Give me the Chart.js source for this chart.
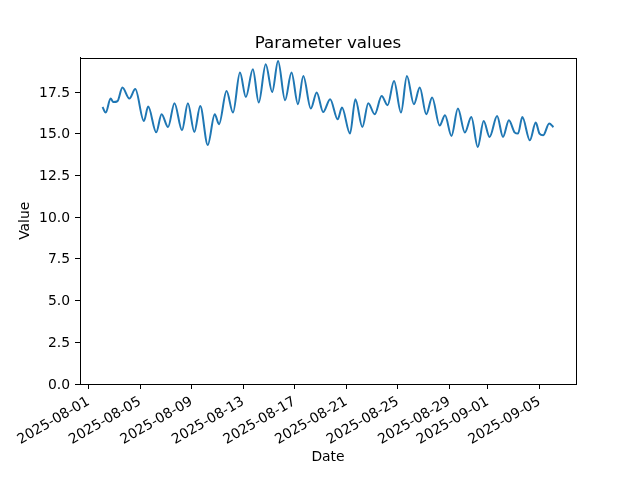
<!DOCTYPE html>
<html lang="en">
    <head>
        <meta charset="UTF-8" />
        <title>Parameter values</title>
        <style>
            body, html {
                margin: 0;
                padding: 0;
                background: #ffffff;
                overflow: hidden;
            }
            #chart-box {
                width: 640px;
                height: 480px;
            }
        </style>
    </head>
    <body>
        <div id="chart-box">
            <canvas id="line-chart" width="640" height="480"></canvas>
        </div>
    </body>
    <script src="https://cdn.jsdelivr.net/npm/chart.js@4.4.0/dist/chart.umd.min.js"></script>
    <script>
        // times (UTC), one per turning point of the curve
        const times = [
            "2025-08-02T02:00", "2025-08-02T08:00", "2025-08-02T17:00", "2025-08-02T22:00",
            "2025-08-03T06:00", "2025-08-03T15:00", "2025-08-04T04:00", "2025-08-04T15:00",
            "2025-08-05T07:00", "2025-08-05T15:00", "2025-08-06T06:00", "2025-08-06T16:00",
            "2025-08-07T04:00", "2025-08-07T16:00", "2025-08-08T06:00", "2025-08-08T17:00",
            "2025-08-09T05:00", "2025-08-09T16:00", "2025-08-10T06:00", "2025-08-10T19:00",
            "2025-08-11T03:00", "2025-08-11T17:00", "2025-08-12T05:00", "2025-08-12T18:00",
            "2025-08-13T05:00", "2025-08-13T18:00", "2025-08-14T05:00", "2025-08-14T18:00",
            "2025-08-15T06:00", "2025-08-15T17:00", "2025-08-16T06:00", "2025-08-16T18:00",
            "2025-08-17T06:00", "2025-08-17T16:00", "2025-08-18T06:00", "2025-08-18T17:00",
            "2025-08-19T05:00", "2025-08-19T18:00", "2025-08-20T08:00", "2025-08-20T16:00",
            "2025-08-21T07:00", "2025-08-21T17:00", "2025-08-22T06:00", "2025-08-22T17:00",
            "2025-08-23T05:00", "2025-08-23T18:00", "2025-08-24T05:00", "2025-08-24T17:00",
            "2025-08-25T06:00", "2025-08-25T17:00", "2025-08-26T06:00", "2025-08-26T17:00",
            "2025-08-27T05:00", "2025-08-27T16:00", "2025-08-28T06:00", "2025-08-28T16:00",
            "2025-08-29T04:00", "2025-08-29T16:00", "2025-08-30T05:00", "2025-08-30T17:00",
            "2025-08-31T05:00", "2025-08-31T16:00", "2025-09-01T03:00", "2025-09-01T17:00",
            "2025-09-02T04:00", "2025-09-02T15:00", "2025-09-03T02:00", "2025-09-03T08:00",
            "2025-09-03T16:00", "2025-09-04T06:00", "2025-09-04T17:00", "2025-09-05T00:00",
            "2025-09-05T07:00", "2025-09-05T18:00", "2025-09-06T02:00"
        ];

        const values = [
            16.60, 16.27, 17.11, 16.90,
            16.96, 17.77, 17.11, 17.68,
            15.76, 16.63, 15.09, 16.17,
            15.40, 16.83, 15.21, 16.83,
            15.11, 16.66, 14.33, 16.17,
            15.57, 17.56, 16.27, 18.67,
            17.20, 18.87, 16.87, 19.17,
            17.50, 19.36, 17.01, 18.67,
            16.77, 18.46, 16.51, 17.47,
            16.30, 17.07, 15.87, 16.57,
            15.01, 17.07, 15.40, 16.83,
            16.17, 17.26, 16.71, 18.16,
            16.27, 18.46, 16.77, 17.77,
            16.17, 17.17, 15.49, 16.11,
            14.87, 16.51, 15.07, 16.00,
            14.21, 15.76, 14.81, 16.06,
            14.81, 15.81, 15.07, 15.01,
            16.00, 14.61, 15.67, 15.01,
            14.91, 15.61, 15.40
        ];

        const dateTicks = [
            "2025-08-01", "2025-08-05", "2025-08-09", "2025-08-13", "2025-08-17",
            "2025-08-21", "2025-08-25", "2025-08-29", "2025-09-01", "2025-09-05"
        ];

        const valueTicks = [0, 2.5, 5, 7.5, 10, 12.5, 15, 17.5];

        const toMs = (s) => Date.parse(s + (s.length > 10 ? ":00Z" : "T00:00:00Z"));

        const points = times.map((t, i) => ({ x: toMs(t), y: values[i] }));
        const xStart = toMs(times[0]);
        const xEnd = toMs(times[times.length - 1]);
        const xPad = (xEnd - xStart) * 0.05;

        const FONT = "'DejaVu Sans', sans-serif";

        // full box round the plot, like the reference
        const frame = {
            id: "frame",
            afterUpdate(chart) {
                // nudge the value labels down a little so the digits sit centred on the ticks
                chart.scales.y.getLabelItems().forEach((item) => {
                    item.options.translation[1] += 1;
                });
            },
            afterDraw(chart) {
                const a = chart.chartArea;
                const ctx = chart.ctx;
                ctx.save();
                ctx.strokeStyle = "#000000";
                ctx.lineWidth = 1;
                ctx.strokeRect(Math.round(a.left) + 0.5, Math.round(a.top) + 0.5,
                    Math.round(a.right - a.left), Math.round(a.bottom - a.top));
                ctx.restore();
            }
        };

        const chart = new Chart(document.getElementById("line-chart"), {
            type: "line",
            data: {
                datasets: [
                    {
                        data: points,
                        borderColor: "#1f77b4",
                        borderWidth: 2,
                        pointRadius: 0,
                        cubicInterpolationMode: "monotone",
                        fill: false,
                    },
                ],
            },
            options: {
                responsive: false,
                animation: false,
                layout: { padding: { left: 0, right: 64, top: 0, bottom: 0 } },
                plugins: {
                    legend: { display: false },
                    tooltip: { enabled: false },
                    title: {
                        display: true,
                        fullSize: false,
                        text: "Parameter values",
                        color: "#000000",
                        font: { family: FONT, size: 16.7, weight: "normal" },
                        padding: { top: 33.5, bottom: 4 },
                    },
                },
                scales: {
                    x: {
                        type: "linear",
                        min: xStart - xPad,
                        max: xEnd + xPad,
                        afterBuildTicks: (scale) => {
                            scale.ticks = dateTicks.map((d) => ({ value: toMs(d) }));
                        },
                        afterFit: (scale) => {
                            scale.height = 96;
                        },
                        ticks: {
                            autoSkip: false,
                            minRotation: 30,
                            maxRotation: 30,
                            padding: 4.5,
                            color: "#000000",
                            font: { family: FONT, size: 13.9 },
                            callback: (v) => new Date(v).toISOString().slice(0, 10),
                        },
                        grid: {
                            drawOnChartArea: false,
                            drawTicks: true,
                            tickLength: 5,
                            color: "#000000",
                        },
                        border: { color: "#000000", width: 1 },
                        title: {
                            display: true,
                            text: "Date",
                            color: "#000000",
                            font: { family: FONT, size: 13.9 },
                            padding: { top: 0, bottom: 14.2 },
                        },
                    },
                    y: {
                        min: 0,
                        max: 19.57,
                        afterBuildTicks: (scale) => {
                            scale.ticks = valueTicks.map((v) => ({ value: v }));
                        },
                        afterFit: (scale) => {
                            scale.width = 80;
                        },
                        ticks: {
                            padding: 5,
                            color: "#000000",
                            font: { family: FONT, size: 13.9 },
                            callback: (v) => Number(v).toFixed(1),
                        },
                        grid: {
                            drawOnChartArea: false,
                            drawTicks: true,
                            tickLength: 5,
                            color: "#000000",
                        },
                        border: { color: "#000000", width: 1 },
                        title: {
                            display: true,
                            text: "Value",
                            color: "#000000",
                            font: { family: FONT, size: 13.9 },
                            padding: { top: 17.2, bottom: 0 },
                        },
                    },
                },
            },
            plugins: [frame],
        });
    </script>
</html>
